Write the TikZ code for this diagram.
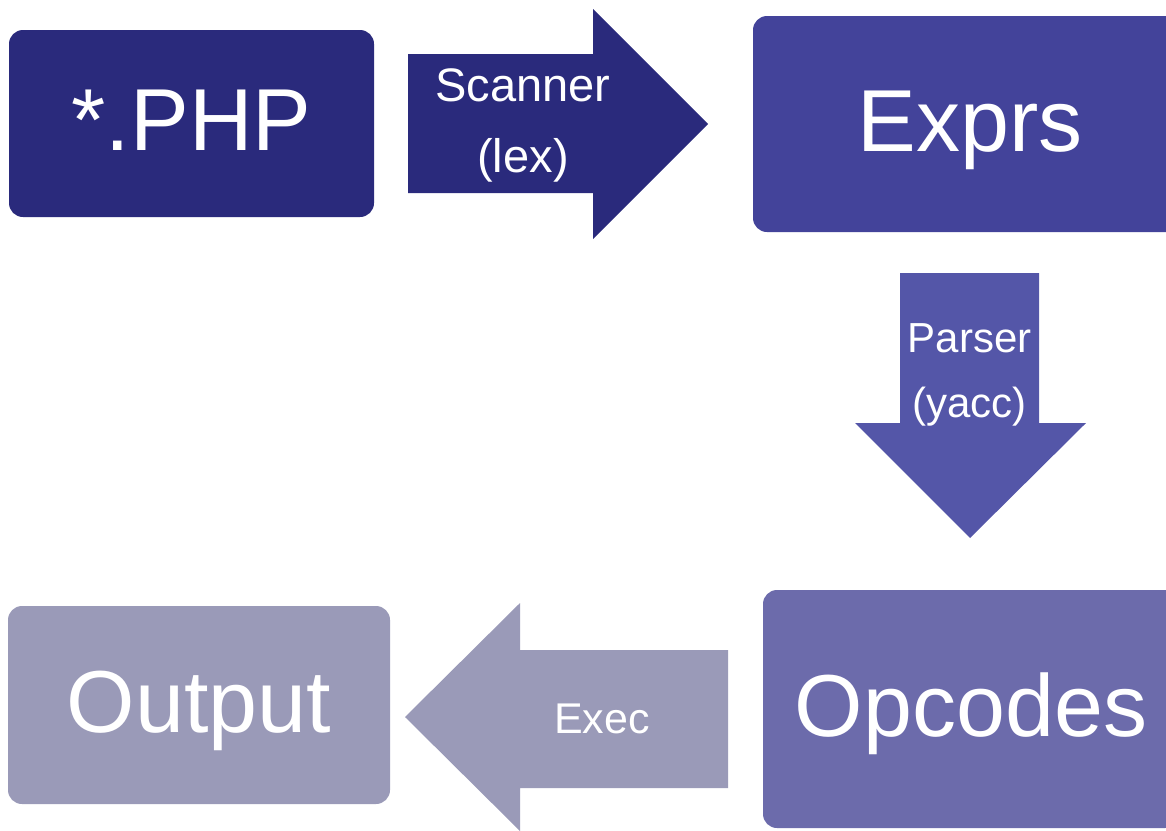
\documentclass[tikz,border=0pt]{standalone}
\usepackage{fontspec}
\setmainfont{Liberation Sans}

\definecolor{phpblue}{HTML}{2A2A7C}
\definecolor{exprblue}{HTML}{43439A}
\definecolor{parseblue}{HTML}{5456A8}
\definecolor{opblue}{HTML}{6C6BAB}
\definecolor{outgrey}{HTML}{9A9AB8}

\tikzset{
  stage/.style={rounded corners=14pt, inner sep=0pt, text=white,
    font=\fontsize{88}{88}\selectfont, text height=63pt, text depth=9pt},
  flowlabel/.style={text=white, align=center, inner sep=0pt},
}

\begin{document}
\begin{tikzpicture}[x=1pt, y=-1pt]
            \clip (0,0) rectangle (1166,830);

            % stages
            \node[stage, fill=phpblue, minimum width=365pt, minimum height=187pt] (php) at (191.5,123.5) {*.PHP};
            \node[stage, fill=exprblue, minimum width=434pt, minimum height=216pt] (exprs) at (970,124) {Exprs};
            \node[stage, fill=opblue, minimum width=416pt, minimum height=238pt] (opcodes) at (971,709) {Opcodes};
            \node[stage, fill=outgrey, minimum width=382pt, minimum height=198pt] (output) at (199,705) {Output};

            % block arrows
            \fill[phpblue] (408,54) -- (593,54) -- (593,9) -- (708,124) -- (593,239) -- (593,193) -- (408,193) -- cycle;
            \fill[parseblue] (900,273) -- (1039,273) -- (1039,423) -- (1086,423) -- (970,538) -- (855,423) -- (900,423) -- cycle;
            \fill[outgrey] (728,650) -- (520,650) -- (520,603) -- (405,717) -- (520,831) -- (520,788) -- (728,788) -- cycle;

            % arrow labels
            \node[flowlabel, font=\fontsize{47}{71}\selectfont] (scan) at (523,125.5) {Scanner\\(lex)};
            \node[flowlabel, font=\fontsize{42}{65}\selectfont] (parse) at (969.5,375) {Parser\\(yacc)};
            \node[flowlabel, font=\fontsize{43}{43}\selectfont, anchor=base] (exec) at (602,733) {Exec};
        \end{tikzpicture}
\end{document}
